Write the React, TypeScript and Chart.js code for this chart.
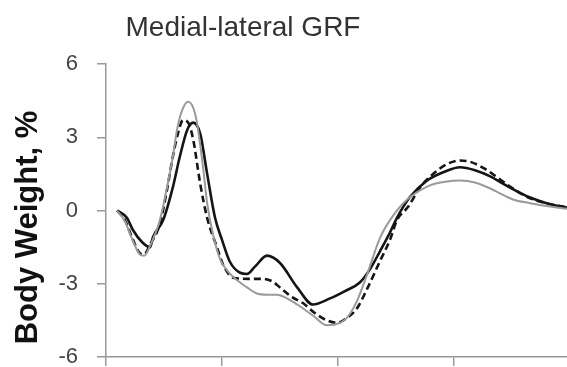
import React, { useEffect, useRef } from "react";
import { Chart, registerables } from "chart.js";

Chart.register(...registerables);

const titleText = "Medial-lateral GRF";
const yAxisTitle = "Body Weight, %";
const yTickValues = [-6, -3, 0, 3, 6];
const xTickValues = [0, 25, 50, 75];
const xMin = 0;
const xMax = 99.35;

// Black solid series (gait cycle %, body weight %)
const blackX = [2.4, 4.5, 5.8, 7.8, 9.5, 10.1, 12.3, 14.4, 15.9, 17.5, 18.8, 20.3, 21.8, 23.5, 25.0, 26.7, 28.9, 30.4, 32.1, 34.7, 37.5, 41.2, 44.6, 48.3, 51.5, 54.7, 56.9, 59.1, 61.2, 62.7, 65.5, 69.2, 73.1, 76.3, 79.5, 82.8, 86.0, 91.4, 95.3, 99.35];
const blackY = [0, -0.3, -0.8, -1.3, -1.5, -1.1, -0.4, 0.95, 2.2, 3.3, 3.6, 3.15, 1.5, -0.3, -1.2, -2.1, -2.55, -2.6, -2.3, -1.85, -2.15, -3.15, -3.85, -3.6, -3.3, -2.95, -2.4, -1.65, -0.9, -0.3, 0.55, 1.23, 1.6, 1.77, 1.65, 1.4, 1.05, 0.53, 0.28, 0.12];

// Black dashed series
const dashedX = [2.4, 4.1, 5.6, 7.3, 8.2, 9.5, 11.6, 13.1, 14.4, 15.5, 16.6, 17.7, 18.8, 20.3, 21.8, 23.9, 25.2, 27.4, 30.6, 33.8, 35.8, 37.5, 40.1, 42.5, 45.0, 47.6, 49.8, 51.9, 54.1, 56.3, 59.1, 61.2, 62.7, 65.1, 67.7, 70.5, 73.5, 76.3, 78.4, 81.7, 84.3, 88.1, 91.4, 95.3, 99.35];
const dashedY = [0, -0.4, -1.1, -1.75, -1.8, -1.4, -0.55, 0.8, 2.2, 3.15, 3.7, 3.6, 2.9, 1.1, -0.3, -1.5, -2.2, -2.75, -2.8, -2.8, -2.9, -3.15, -3.55, -3.8, -4.2, -4.5, -4.6, -4.4, -4.0, -3.2, -2.05, -1.2, -0.4, 0.15, 0.95, 1.5, 1.9, 2.05, 2.0, 1.7, 1.36, 0.85, 0.5, 0.28, 0.12];

// Gray solid series
const grayX = [2.4, 4.1, 5.6, 7.3, 8.2, 9.5, 11.6, 13.1, 14.4, 15.3, 16.4, 17.7, 18.8, 19.6, 20.9, 21.8, 23.1, 24.6, 26.1, 28.2, 30.4, 32.5, 34.7, 36.9, 39.0, 41.2, 44.6, 47.6, 50.4, 51.9, 54.1, 56.3, 59.1, 62.3, 64.9, 69.8, 73.1, 76.3, 79.5, 82.8, 86.0, 87.7, 91.4, 95.3, 99.35];
const grayY = [0, -0.45, -1.15, -1.8, -1.85, -1.45, -0.4, 0.9, 2.2, 3.3, 4.1, 4.45, 4.2, 3.6, 1.8, 0.3, -1.0, -2.0, -2.45, -2.85, -3.15, -3.4, -3.45, -3.45, -3.6, -3.85, -4.3, -4.7, -4.6, -4.4, -3.7, -2.6, -1.1, -0.1, 0.45, 1.03, 1.18, 1.23, 1.15, 0.9, 0.6, 0.45, 0.3, 0.17, 0.07];

const toPoints = (xs: number[], ys: number[]) => xs.map((x, i) => ({ x, y: ys[i] }));

const textPlugin = {
  id: "customTexts",
  afterDraw(chart: any) {
    const ctx = chart.ctx;
    const area = chart.chartArea;
    ctx.save();
    ctx.fillStyle = "#333333";
    ctx.font = '28px "Liberation Sans", Arial, sans-serif';
    ctx.textAlign = "center";
    ctx.textBaseline = "alphabetic";
    ctx.fillText(titleText, 243, 36);
    ctx.translate(37, (area.top + area.bottom) / 2 + 17);
    ctx.rotate(-Math.PI / 2);
    ctx.font = 'bold 31px "Liberation Sans", Arial, sans-serif';
    ctx.fillStyle = "#111111";
    ctx.fillText(yAxisTitle, 0, 0);
    ctx.restore();
  },
};

export default function App() {
  const canvasRef = useRef<HTMLCanvasElement | null>(null);

  useEffect(() => {
    if (!canvasRef.current) return;
    const chart = new Chart(canvasRef.current, {
      type: "line",
      data: {
        datasets: [
          {
            label: "gray",
            data: toPoints(grayX, grayY),
            borderColor: "#9a9a9a",
            borderWidth: 2,
            pointRadius: 0,
            cubicInterpolationMode: "monotone",
            fill: false,
          },
          {
            label: "dashed",
            data: toPoints(dashedX, dashedY),
            borderColor: "#151515",
            borderWidth: 2.6,
            borderDash: [7, 4],
            pointRadius: 0,
            cubicInterpolationMode: "monotone",
            fill: false,
          },
          {
            label: "black",
            data: toPoints(blackX, blackY),
            borderColor: "#151515",
            borderWidth: 2.6,
            pointRadius: 0,
            cubicInterpolationMode: "monotone",
            fill: false,
          },
        ],
      },
      options: {
        responsive: false,
        animation: false,
        devicePixelRatio: 1,
        layout: { padding: { top: 64, left: 0, right: 0, bottom: 0 } },
        plugins: {
          legend: { display: false },
          tooltip: { enabled: false },
          title: { display: false },
        },
        scales: {
          x: {
            type: "linear",
            min: xMin,
            max: xMax,
            afterBuildTicks: (scale: any) => {
              scale.ticks = xTickValues.map((v) => ({ value: v }));
            },
            afterFit: (scale: any) => {
              scale.height = 10;
              scale.paddingLeft = 0;
              scale.paddingRight = 0;
              scale.paddingTop = 0;
              scale.paddingBottom = 0;
            },
            ticks: { display: false },
            grid: {
              drawOnChartArea: false,
              drawTicks: true,
              tickLength: 9,
              color: "#999999",
              lineWidth: 1.5,
            },
            border: { color: "#999999", width: 1.5 },
          },
          y: {
            type: "linear",
            min: -6,
            max: 6,
            afterBuildTicks: (scale: any) => {
              scale.ticks = yTickValues.map((v) => ({ value: v }));
            },
            afterFit: (scale: any) => {
              scale.width = 106;
              scale.paddingTop = 0;
              scale.paddingBottom = 0;
              scale.paddingLeft = 0;
              scale.paddingRight = 0;
            },
            ticks: {
              color: "#444444",
              font: { size: 22, family: '"Liberation Sans", Arial, sans-serif' },
              padding: 19,
            },
            grid: {
              drawOnChartArea: false,
              drawTicks: true,
              tickLength: 9,
              color: "#999999",
              lineWidth: 1.5,
            },
            border: { color: "#999999", width: 1.5 },
          },
        },
      },
      plugins: [textPlugin],
    } as any);
    return () => chart.destroy();
  }, []);

  return (
    <div style={{ position: "absolute", left: 0, top: 0, width: 567, height: 367, background: "#fff" }}>
      <canvas ref={canvasRef} width={567} height={367} style={{ display: "block" }} />
    </div>
  );
}
